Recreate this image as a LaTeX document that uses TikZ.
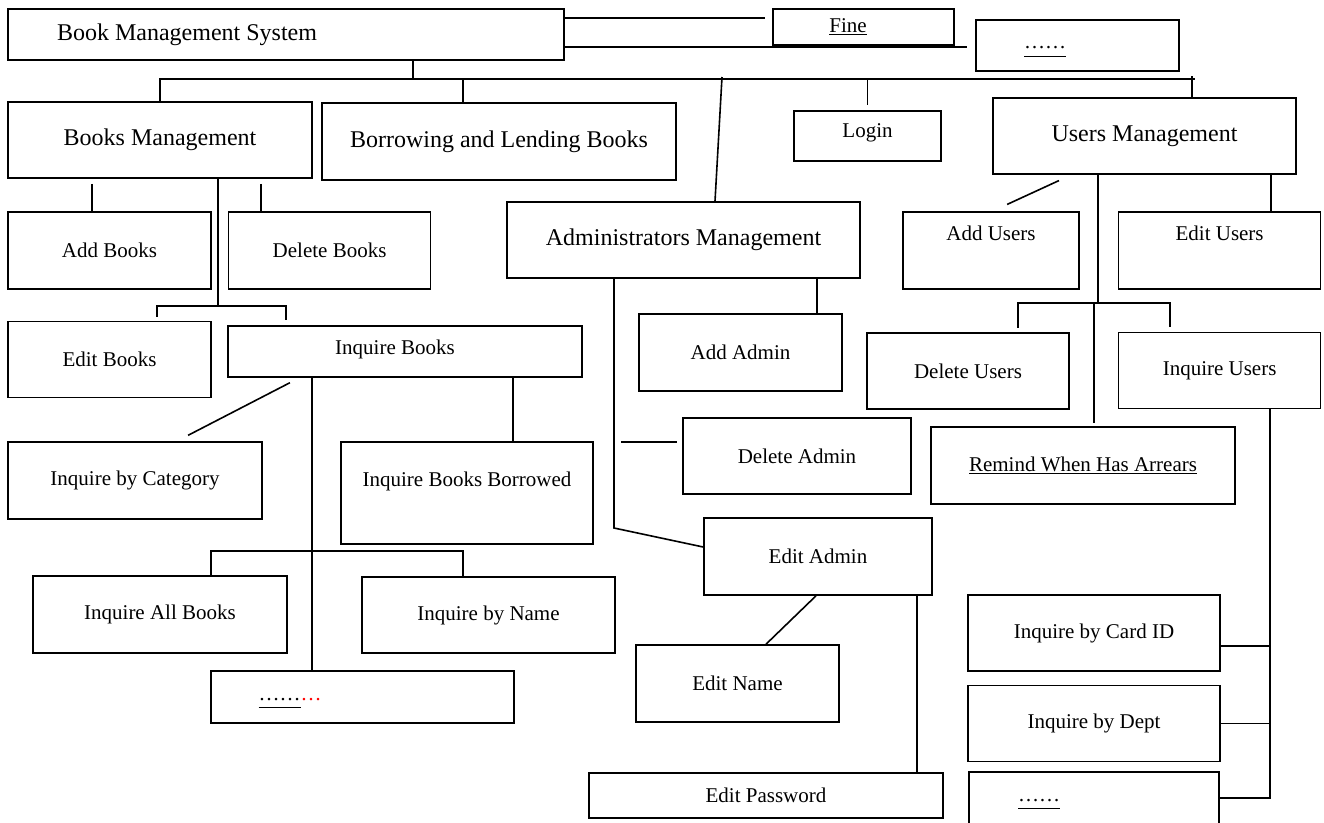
\documentclass[tikz,border=0pt]{standalone}
\usepackage{fontspec}
\setmainfont{Liberation Serif}
\usetikzlibrary{positioning}

\begin{document}
\begin{tikzpicture}[
    x=1pt, y=-1pt, line width=1.6pt,
    node distance=20pt,
    every node/.style={font=\fontsize{21pt}{25pt}\selectfont},
    mainbox/.style={draw, inner sep=0pt, font=\fontsize{24pt}{28pt}\selectfont},
    subbox/.style={draw, inner sep=0pt},
    wh/.style 2 args={minimum width=#1pt, minimum height=#2pt},
    lifted/.style={text height=14pt, text depth=#1pt},
    dotsbox/.style={text height=21pt, text depth=3pt}
]
\useasboundingbox (0,0) rectangle (1324,822);

% Top level
\node[mainbox, wh={556}{51}] (sys) at (286,34.5) {Book Management System\hspace{198pt}\mbox{}};
\node[subbox, wh={181}{36}] (fine) at (863.5,27) {\underline{Fine}\hspace{31pt}\mbox{}};
\node[subbox, dotsbox, wh={203}{51}] (etc) at (1077.5,45.5) {\underline{\raisebox{6pt}{……}}\hspace{65pt}\mbox{}};
\draw[shorten >=7pt] (sys.east |- 0,18) -- (fine.west |- 0,18);
\draw[shorten >=8pt] (sys.east |- 0,47) -- (etc.west |- 0,47);

% Second level
\node[mainbox, wh={304}{76}] (bm) at (160,140) {Books Management};
\node[mainbox, wh={354}{77}] (borrow) at (499,141.5) {Borrowing and Lending Books};
\node[subbox, lifted=12, wh={147}{50}] (login) at (867.5,136) {Login};
\node[mainbox, wh={353}{76}] (admin) at (683.5,240) {Administrators Management};
\node[mainbox, wh={303}{76}] (um) at (1144.5,136) {Users Management};

\coordinate (top) at (413,79);
\coordinate (admtop) at (722,77);
\coordinate (umtop) at (1192,76);
\draw (sys.south -| top) -- (top);
\draw (bm.north) |- (1195,79);
\draw (463,0 |- top) -- (463,0 |- borrow.north);
\draw (admtop) -- (715,0 |- admin.north);
\draw[shorten >=5pt] (login.north |- top) -- (login.north);
\draw (umtop) -- (umtop |- um.north);

% Books Management
\node[subbox, wh={203}{77}] (addbk) at (109.5,250.5) {Add Books};
\node[subbox, wh={202}{77}, right=16pt of addbk] (delbk) {Delete Books};
\node[subbox, wh={203}{76}, below=31pt of addbk] (editbk) {Edit Books};
\node[subbox, lifted=9, wh={354}{51}] (inqbk) at (405,351.5) {Inquire Books\hspace{20pt}\mbox{}};
\coordinate (bkbus) at (218,306);
\draw[shorten <=5pt] (92,0 |- bm.south) -- (92,0 |- addbk.north);
\draw[shorten <=5pt] (261,0 |- bm.south) -- (261,0 |- delbk.north);
\draw (bm.south -| bkbus) -- (bkbus);
\draw[shorten >=4pt] (bkbus) -| (157,0 |- editbk.north);
\draw[shorten >=5pt] (bkbus) -| (286,0 |- inqbk.north);

% Inquire Books
\node[subbox, wh={254}{77}] (cat) at (135,480.5) {Inquire by Category};
\node[subbox, lifted=28, wh={252}{102}] (borrowed) at (467,493) {Inquire Books Borrowed};
\node[subbox, wh={254}{77}] (allbk) at (160,614.5) {Inquire All Books};
\node[subbox, wh={253}{76}] (byname) at (488.5,615) {Inquire by Name};
\node[subbox, dotsbox, wh={303}{52}] (more1) at (362.5,697) {\underline{\raisebox{6pt}{……}}\textcolor{red}{\raisebox{6pt}{…}}\hspace{145pt}\mbox{}};
\coordinate (inqbus) at (312,551);
\draw[shorten <=10.7pt, shorten >=12.8pt] (299.4,0 |- inqbk.south) -- (176.7,0 |- cat.north);
\draw (312,0 |- inqbk.south) -- (312,0 |- more1.north);
\draw (513,0 |- inqbk.south) -- (513,0 |- borrowed.north);
\draw (211,0 |- allbk.north) |- (inqbus) -| (463,0 |- byname.north);

% Administrators Management
\node[subbox, wh={203}{77}] (addadm) at (740.5,352.5) {Add Admin};
\node[subbox, wh={228}{76}] (deladm) at (797,456) {Delete Admin};
\node[subbox, wh={228}{77}] (editadm) at (818,556.5) {Edit Admin};
\node[subbox, wh={203}{77}] (editname) at (737.5,683.5) {Edit Name};
\node[subbox, wh={354}{45}] (editpwd) at (766,795.5) {Edit Password};
\coordinate (admbend) at (614,528);
\coordinate (delfree) at (621,442);
\draw (614,0 |- admin.south) -- (admbend) -- (editadm.west |- 0,547);
\draw (817,0 |- admin.south) -- (817,0 |- addadm.north);
\draw[shorten >=5pt] (delfree) -- (deladm.west |- delfree);
\draw (816,0 |- editadm.south) -- (766,0 |- editname.north);
\draw (917,0 |- editadm.south) -- (917,0 |- editpwd.north);

% Users Management
\node[subbox, lifted=35, wh={176}{77}] (addusr) at (991,250.5) {Add Users};
\node[subbox, lifted=35, wh={202}{77}, right=38pt of addusr] (editusr) {Edit Users};
\node[subbox, wh={202}{76}] (delusr) at (968,371) {Delete Users};
\node[subbox, wh={202}{76}, below=42pt of editusr] (inqusr) {Inquire Users};
\node[subbox, wh={304}{77}] (remind) at (1083,465.5) {\underline{Remind When Has Arrears}};
\node[subbox, wh={252}{76}] (card) at (1094,633) {Inquire by Card ID};
\node[subbox, wh={252}{76}, below=13pt of card] (dept) {Inquire by Dept};
\node[subbox, dotsbox, wh={250}{52}, below=9pt of dept] (more2) {\underline{\raisebox{6pt}{……}}\hspace{110pt}\mbox{}};
\coordinate (usrbus) at (1098,303);
\coordinate (usrtrunk) at (1270,409);
\draw[shorten <=13.8pt, shorten >=16.2pt] (1071.5,0 |- um.south) -- (992.4,0 |- addusr.north);
\draw (1271,0 |- um.south) -- (1271,0 |- editusr.north);
\draw (um.south -| usrbus) -- (usrbus);
\draw[shorten >=4pt] (usrbus) -| (1018,0 |- delusr.north);
\draw[shorten >=5pt] (usrbus) -| (1170,0 |- inqusr.north);
\draw[shorten >=3pt] (1094,0 |- usrbus) -- (1094,0 |- remind.north);
\draw (inqusr.south -| usrtrunk) |- (more2.east);
\draw (card.east |- 0,646) -- (usrtrunk |- 0,646);
\draw (dept.east) -- (dept.east -| usrtrunk);
\end{tikzpicture}
\end{document}
